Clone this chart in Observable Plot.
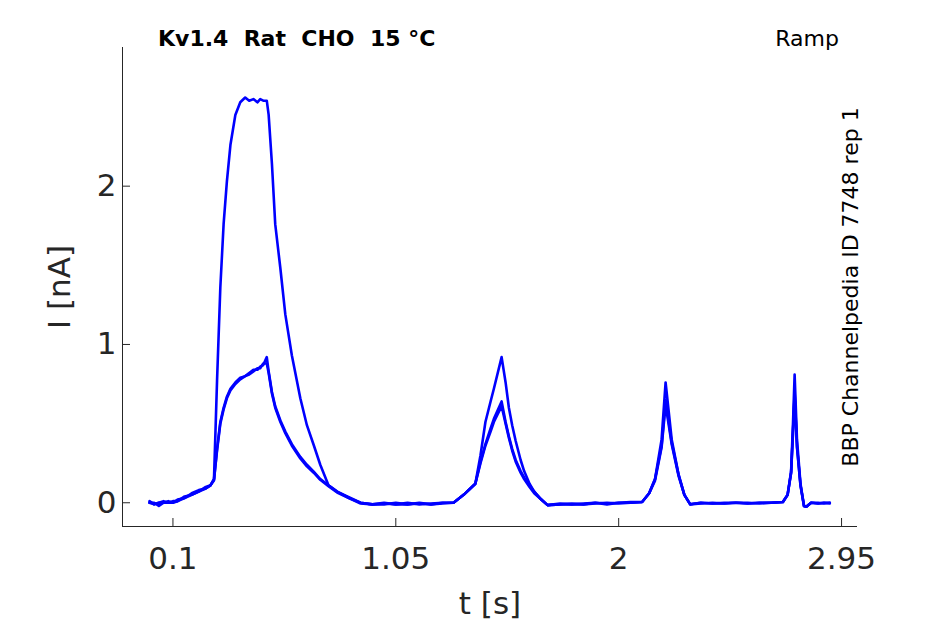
<!DOCTYPE html>
<html>
<head>
<meta charset="utf-8">
<script src="https://cdn.jsdelivr.net/npm/d3@7"></script>
<script src="https://cdn.jsdelivr.net/npm/@observablehq/plot@0.6"></script>
<style>
  html, body { margin: 0; padding: 0; background: #fff; }
  #wrap { position: relative; width: 945px; height: 624px; font-family: "DejaVu Sans", sans-serif; }
  #wrap svg { position: absolute; left: 0; top: 0; z-index: 0; }
  #title { position: absolute; z-index: 2; left: 158px; top: 28px; font-size: 22px; font-weight: bold; color: #000; white-space: pre; line-height: 1; }
  #ramp { position: absolute; z-index: 2; right: 106px; top: 28px; font-size: 22px; color: #000; line-height: 1; }
</style>
</head>
<body>
<div id="wrap">
  <div id="title">Kv1.4  Rat  CHO  15 °C</div>
  <div id="ramp">Ramp</div>
</div>
<script>
// time (s)
const time = [
  0.000, 0.020, 0.040, 0.060, 0.080, 0.100, 0.120, 0.150, 0.180, 0.210, 0.240, 0.260, 0.275,
  0.288, 0.302, 0.316, 0.330, 0.345, 0.366, 0.387, 0.408, 0.425, 0.443, 0.460, 0.472, 0.485, 0.500,
  0.508, 0.522, 0.536, 0.558, 0.579, 0.607, 0.643, 0.671, 0.700, 0.728, 0.763, 0.800, 0.850, 0.900,
  0.950, 1.000, 1.050, 1.100, 1.150, 1.200, 1.250, 1.296,
  1.339, 1.389, 1.411, 1.432, 1.454, 1.468, 1.501, 1.518, 1.532, 1.546, 1.561, 1.582, 1.597, 1.620, 1.640, 1.670, 1.697,
  1.750, 1.800, 1.850, 1.900, 1.950, 2.000, 2.050, 2.100,
  2.130, 2.155, 2.183, 2.200, 2.226, 2.255, 2.280, 2.305,
  2.350, 2.400, 2.450, 2.500, 2.550, 2.600, 2.650, 2.700,
  2.720, 2.735, 2.743, 2.750, 2.760, 2.775, 2.790, 2.800, 2.820, 2.850, 2.875, 2.900
];
// current (nA), upper trace
const traceA = [
  0.00, -0.01, 0.00, 0.01, 0.00, 0.00, 0.01, 0.03, 0.05, 0.07, 0.09, 0.11, 0.15,
  0.77, 1.36, 1.76, 2.03, 2.26, 2.45, 2.53, 2.56, 2.54, 2.55, 2.53, 2.55, 2.54, 2.54,
  2.45, 2.14, 1.76, 1.48, 1.19, 0.93, 0.66, 0.49, 0.365, 0.24, 0.11, 0.07, 0.03, 0.00,
  -0.01, -0.01, 0.00, -0.01, -0.005, -0.01, 0.00, 0.00,
  0.05, 0.12, 0.30, 0.51, 0.64, 0.72, 0.92, 0.76, 0.60, 0.49, 0.39, 0.27, 0.20, 0.12, 0.07, 0.02, -0.015,
  -0.01, -0.005, -0.01, 0.00, -0.005, 0.00, 0.00, 0.005,
  0.06, 0.15, 0.40, 0.76, 0.40, 0.18, 0.05, -0.01,
  0.00, -0.005, 0.00, 0.00, -0.005, 0.00, 0.00, 0.005,
  0.05, 0.20, 0.50, 0.81, 0.40, 0.12, -0.02, -0.025, 0.00, -0.005, 0.00, -0.005
];
// current (nA), lower traces
const traceB = [
  0.00, 0.00, -0.02, 0.00, 0.01, 0.00, 0.02, 0.03, 0.06, 0.08, 0.09, 0.11, 0.14,
  0.34, 0.51, 0.60, 0.67, 0.72, 0.76, 0.79, 0.80, 0.82, 0.84, 0.84, 0.86, 0.87, 0.92,
  0.83, 0.70, 0.61, 0.52, 0.45, 0.37, 0.29, 0.24, 0.196, 0.15, 0.11, 0.07, 0.035, 0.00,
  -0.01, 0.00, -0.01, -0.01, 0.00, -0.01, -0.005, 0.00,
  0.05, 0.12, 0.26, 0.37, 0.47, 0.53, 0.64, 0.51, 0.42, 0.34, 0.27, 0.20, 0.16, 0.11, 0.07, 0.02, -0.015,
  -0.01, -0.01, -0.005, 0.00, -0.01, 0.00, 0.005, 0.005,
  0.06, 0.15, 0.36, 0.65, 0.38, 0.18, 0.05, -0.01,
  -0.005, 0.00, -0.005, 0.00, 0.00, -0.005, 0.00, 0.005,
  0.05, 0.19, 0.45, 0.70, 0.36, 0.11, -0.02, -0.025, 0.00, 0.00, -0.005, 0.00
];
const traceC = [
  0.01, -0.01, 0.00, 0.00, 0.00, 0.01, 0.01, 0.04, 0.05, 0.07, 0.10, 0.11, 0.15,
  0.33, 0.50, 0.59, 0.66, 0.71, 0.75, 0.78, 0.80, 0.81, 0.83, 0.85, 0.85, 0.88, 0.88,
  0.82, 0.69, 0.60, 0.51, 0.44, 0.36, 0.28, 0.23, 0.19, 0.145, 0.105, 0.065, 0.03, -0.005,
  -0.01, -0.005, -0.01, 0.00, -0.01, -0.005, 0.00, 0.00,
  0.05, 0.12, 0.25, 0.36, 0.45, 0.51, 0.61, 0.50, 0.41, 0.33, 0.26, 0.19, 0.15, 0.10, 0.06, 0.02, -0.015,
  -0.005, -0.01, -0.01, -0.005, 0.00, -0.005, 0.00, 0.005,
  0.06, 0.14, 0.35, 0.62, 0.37, 0.17, 0.05, -0.01,
  0.00, -0.005, -0.005, 0.00, -0.005, 0.00, 0.00, 0.005,
  0.05, 0.19, 0.44, 0.68, 0.35, 0.11, -0.02, -0.025, 0.00, -0.005, 0.00, 0.00
];
const traceNames = ["A", "B", "C"];
const xTicks = [0.1, 1.05, 2, 2.95];
const yTicks = [0, 1, 2];
const xDomain = [-0.115, 3.018];
const yDomain = [-0.15, 2.876];

const series = [traceA, traceB, traceC];
const rows = [];
series.forEach((vals, k) => vals.forEach((v, i) => rows.push({t: time[i], I: v, trace: traceNames[k]})));

const axisColor = "#262626";
const chart = Plot.plot({
  width: 945,
  height: 624,
  marginLeft: 122,
  marginRight: 88,
  marginTop: 47,
  marginBottom: 98,
  style: {fontFamily: "DejaVu Sans, sans-serif", background: "transparent", color: axisColor},
  x: {domain: xDomain},
  y: {domain: yDomain},
  marks: [
    Plot.ruleX([xDomain[0]], {stroke: axisColor, strokeWidth: 1}),
    Plot.ruleY([yDomain[0]], {stroke: axisColor, strokeWidth: 1}),
    Plot.axisX(xTicks, {anchor: "bottom", tickSize: -8, tickPadding: 28, fontSize: 31, stroke: axisColor, fill: axisColor, tickFormat: d => String(d), label: null}),
    Plot.axisY(yTicks, {anchor: "left", tickSize: -8, tickPadding: 14, fontSize: 31, stroke: axisColor, fill: axisColor, tickFormat: d => String(d), label: null}),
    Plot.line(rows, {x: "t", y: "I", z: "trace", stroke: "#0000ff", strokeWidth: 2.6, curve: "linear"}),
    Plot.text(["t [s]"], {frameAnchor: "bottom", lineAnchor: "middle", textAnchor: "middle", dy: 78, fontSize: 31, fill: axisColor}),
    Plot.text(["I [nA]"], {frameAnchor: "left", lineAnchor: "middle", textAnchor: "middle", dx: -62, rotate: -90, fontSize: 31, fill: axisColor}),
    Plot.text(["BBP Channelpedia ID 7748 rep 1"], {frameAnchor: "right", lineAnchor: "middle", textAnchor: "middle", dx: -7, rotate: -90, fontSize: 22, fill: "#000"})
  ]
});
document.getElementById("wrap").prepend(chart);
</script>
</body>
</html>
